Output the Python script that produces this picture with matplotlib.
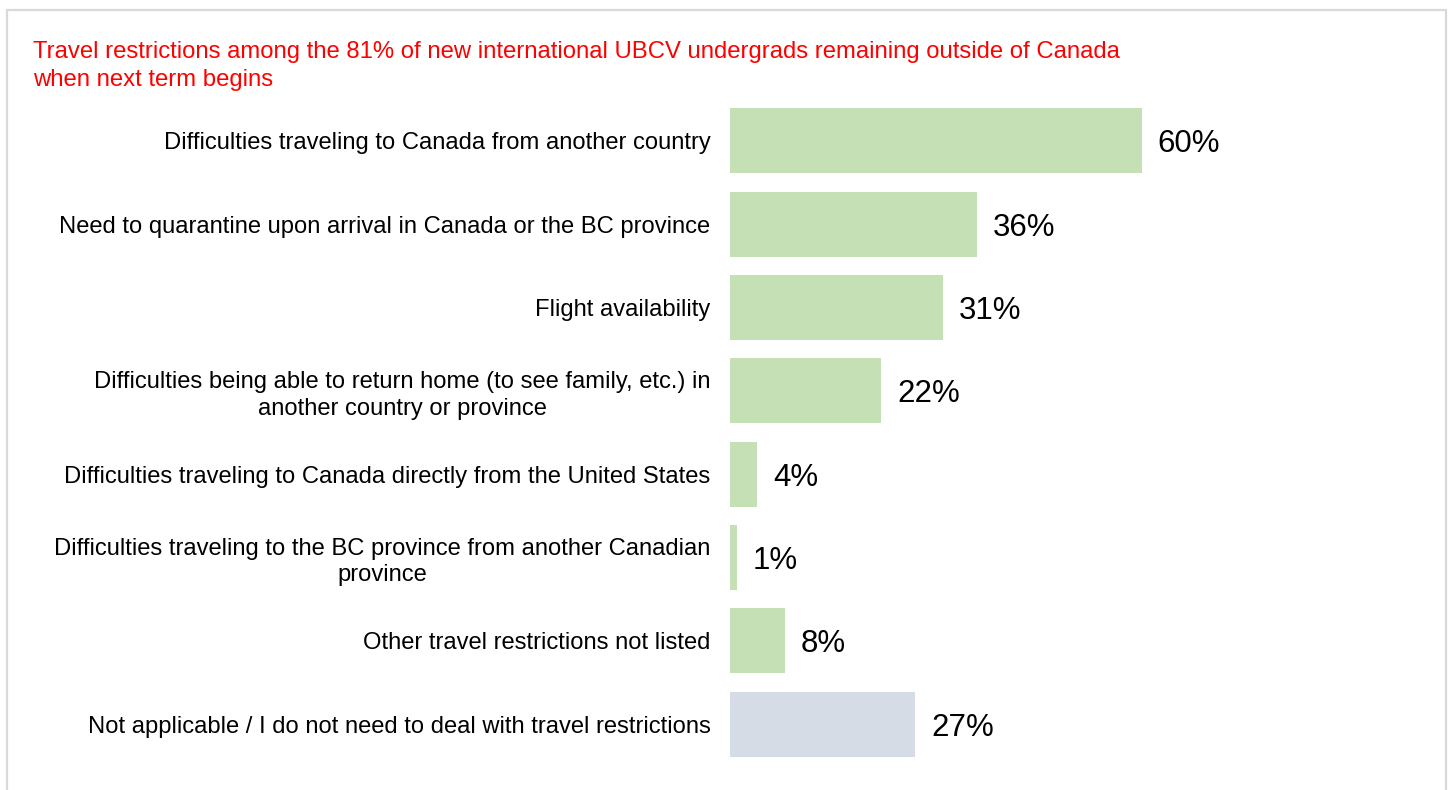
import matplotlib.pyplot as plt
from matplotlib.patches import Rectangle

plt.rcParams['font.family'] = ['Liberation Sans', 'DejaVu Sans']

# survey responses (% of respondents)
categories = [
    'Difficulties traveling to Canada from another country',
    'Need to quarantine upon arrival in Canada or the BC province',
    'Flight availability',
    'Difficulties being able to return home (to see family, etc.) in\nanother country or province',
    'Difficulties traveling to Canada directly from the United States',
    'Difficulties traveling to the BC province from another Canadian\nprovince',
    'Other travel restrictions not listed',
    'Not applicable / I do not need to deal with travel restrictions',
]
values = [60, 36, 31, 22, 4, 1, 8, 27]
colors = ['#C5E0B4'] * 7 + ['#D6DCE5']

title = ('Travel restrictions among the 81% of new international UBCV undergrads '
         'remaining outside of Canada\nwhen next term begins')

fig = plt.figure(figsize=(14.48, 7.9), dpi=100)
ax = fig.add_axes([730 / 1448, 1 - 766 / 790, 686 / 1448, 667 / 790])

ypos = range(len(categories))
ax.barh(ypos, values, height=0.78, color=colors)
ax.set_xlim(0, 100)
ax.set_ylim(len(categories) - 0.5, -0.5)

for y, v in zip(ypos, values):
    ax.annotate(f'{v}%', (v, y), xytext=(16, 0), textcoords='offset pixels',
                va='center_baseline', ha='left', fontsize=22.5, color='black')

ax.set_yticks(list(ypos))
ax.set_yticklabels(categories, fontsize=17.1, color='black', multialignment='center',
                   linespacing=1.25)
ax.tick_params(axis='y', length=0, pad=14)
ax.set_xticks([])
for s in ax.spines.values():
    s.set_visible(False)

fig.text(33 / 1448, 1 - 41 / 790, title, color='#FF0000', fontsize=17.2,
         ha='left', va='top', linespacing=1.38)

# outer frame
fig.patches.append(Rectangle((7 / 1448, -0.05), 1439 / 1448, 1.05 - 10 / 790,
                             transform=fig.transFigure, fill=False,
                             edgecolor='#D9D9D9', linewidth=1.6))

fig.savefig('out.png', dpi=100)
